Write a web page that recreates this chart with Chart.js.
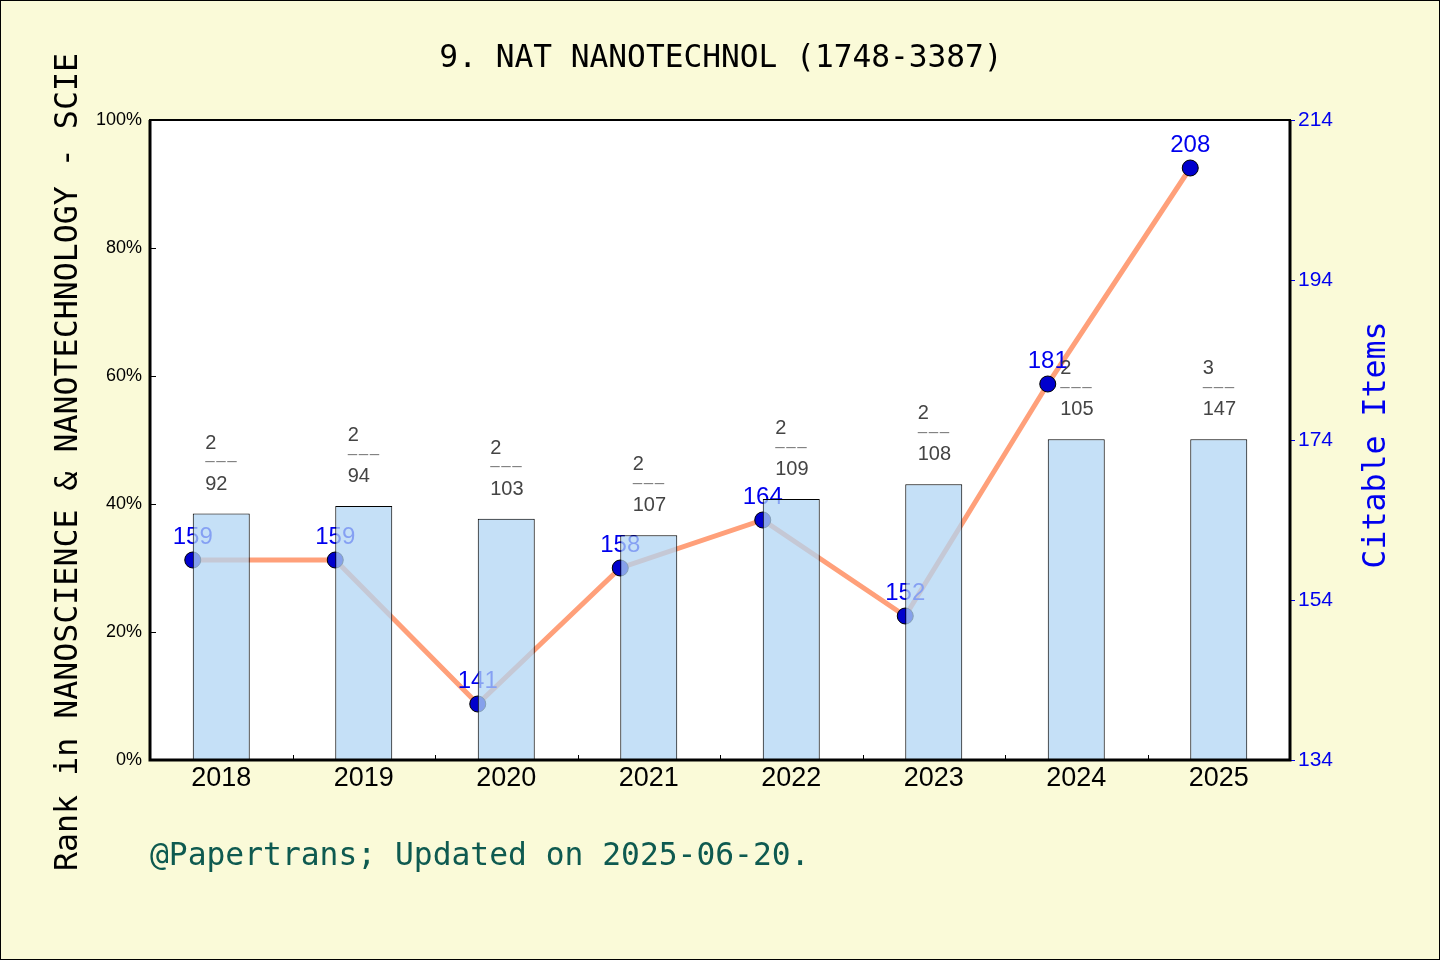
<!DOCTYPE html>
<html>
<head>
<meta charset="utf-8">
<title>NAT NANOTECHNOL</title>
<script src="https://cdn.jsdelivr.net/npm/chart.js@4.4.1/dist/chart.umd.min.js"></script>
<style>
  html, body { margin: 0; padding: 0; background: #fafad8; }
  #wrap { width: 1440px; height: 960px; }
</style>
</head>
<body>
<div id="wrap"><canvas id="chart" width="1440" height="960"></canvas></div>
<script>
// values
var years      = ['2018', '2019', '2020', '2021', '2022', '2023', '2024', '2025'];
var rankPct    = [38.5, 39.7, 37.7, 35.1, 40.8, 43.1, 50.1, 50.1];
var rankNum    = [2, 2, 2, 2, 2, 2, 2, 3];
var rankTotal  = [92, 94, 103, 107, 109, 108, 105, 147];
var citable    = [159, 159, 141, 158, 164, 152, 181, 208];
var leftRange  = [0, 100, 20];
var rightRange = [134, 214, 20];

var TITLE       = '9. NAT NANOTECHNOL (1748-3387)';
var LEFT_TITLE  = 'Rank in NANOSCIENCE & NANOTECHNOLOGY - SCIE';
var RIGHT_TITLE = 'Citable Items';
var FOOTER      = '@Papertrans; Updated on 2025-06-20.';

var MONO = '"DejaVu Sans Mono", "Liberation Mono", monospace';
var SANS = '"Liberation Sans", Arial, sans-serif';
var BG = '#fafad8';
var LINE_SHIFT = -0.2;   // points sit at the left edge of each bar

var lineData = citable.map(function(v, i) { return { x: i + LINE_SHIFT, y: v }; });

var decorPlugin = {
    id: 'decor',
    beforeDraw: function(chart) {
        var ctx = chart.ctx, a = chart.chartArea;
        ctx.save();
        ctx.fillStyle = BG;
        ctx.fillRect(0, 0, chart.width, chart.height);
        ctx.fillStyle = '#ffffff';
        ctx.fillRect(a.left, a.top, a.right - a.left, a.bottom - a.top);
        ctx.restore();
    },
    afterDatasetDraw: function(chart, args) {
        // value labels of the line, drawn before the bars cover them
        if (args.index !== 1) return;
        var ctx = chart.ctx;
        var meta = chart.getDatasetMeta(1);
        ctx.save();
        ctx.font = '24px ' + SANS;
        ctx.fillStyle = '#0000ee';
        ctx.textAlign = 'center';
        ctx.textBaseline = 'alphabetic';
        meta.data.forEach(function(pt, i) {
            ctx.fillText(String(citable[i]), pt.x, pt.y - 16);
        });
        ctx.restore();
    },
    afterDatasetsDraw: function(chart) {
        var ctx = chart.ctx;
        var meta = chart.getDatasetMeta(0);
        ctx.save();
        ctx.textAlign = 'left';
        meta.data.forEach(function(bar, i) {
            var x = bar.x - 16, top = bar.y;
            ctx.font = '20px ' + SANS;
            ctx.fillStyle = '#444444';
            ctx.textBaseline = 'alphabetic';
            ctx.fillText(String(rankNum[i]), x, top - 65);
            ctx.fillText(String(rankTotal[i]), x, top - 24);
            // the fraction bar: three short dashes
            ctx.font = '17px ' + SANS;
            ctx.fillStyle = '#808080';
            ctx.textBaseline = 'middle';
            for (var j = 0; j < 3; j++) {
                ctx.fillText('\u2013', x + j * 11, top - 52);
            }
        });
        ctx.restore();
    },
    afterDraw: function(chart) {
        var ctx = chart.ctx, a = chart.chartArea;
        var yL = chart.scales.y;
        ctx.save();

        // inward ticks on left axis and at category boundaries
        ctx.strokeStyle = '#000';
        ctx.lineWidth = 1;
        ctx.beginPath();
        yL.ticks.forEach(function(t) {
            var py = Math.round(yL.getPixelForValue(t.value)) + 0.5;
            ctx.moveTo(a.left, py);
            ctx.lineTo(a.left + 6, py);
        });
        var step = (a.right - a.left) / years.length;
        for (var k = 1; k < years.length; k++) {
            var px = Math.round(a.left + step * k) + 0.5;
            ctx.moveTo(px, a.bottom);
            ctx.lineTo(px, a.bottom - 5);
        }
        ctx.stroke();

        // frame
        ctx.lineWidth = 2;
        ctx.strokeRect(a.left, a.top, a.right - a.left, a.bottom - a.top);
        ctx.lineWidth = 3;
        ctx.beginPath();
        ctx.moveTo(a.left, a.top);
        ctx.lineTo(a.left, a.bottom);
        ctx.lineTo(a.right, a.bottom);
        ctx.lineTo(a.right, a.top);
        ctx.stroke();

        // title
        ctx.font = '31.2px ' + MONO;
        ctx.fillStyle = '#000';
        ctx.textAlign = 'center';
        ctx.textBaseline = 'alphabetic';
        ctx.fillText(TITLE, 721, 67);

        // footer
        ctx.font = '31.3px ' + MONO;
        ctx.fillStyle = '#0e5a50';
        ctx.textAlign = 'left';
        ctx.fillText(FOOTER, 150, 865);

        // axis titles, both reading bottom to top
        ctx.font = '31.6px ' + MONO;
        ctx.textAlign = 'center';
        ctx.save();
        ctx.translate(77, 462);
        ctx.rotate(-Math.PI / 2);
        ctx.fillStyle = '#000';
        ctx.fillText(LEFT_TITLE, 0, 0);
        ctx.restore();

        ctx.save();
        ctx.translate(1385, 445);
        ctx.rotate(-Math.PI / 2);
        ctx.fillStyle = '#0000ee';
        ctx.fillText(RIGHT_TITLE, 0, 0);
        ctx.restore();

        // outer frame of the figure
        ctx.lineWidth = 1;
        ctx.strokeStyle = '#000';
        ctx.strokeRect(0.5, 0.5, chart.width - 1, chart.height - 1);
        ctx.restore();
    }
};

var ctx = document.getElementById('chart').getContext('2d');
var chart = new Chart(ctx, {
    data: {
        labels: years,
        datasets: [{
            type: 'bar',
            label: 'Rank',
            data: rankPct,
            xAxisID: 'x',
            yAxisID: 'y',
            backgroundColor: 'rgba(178, 214, 244, 0.75)',
            borderColor: '#000',
            borderWidth: 1,
            grouped: false,
            barPercentage: 0.4,
            categoryPercentage: 1.0,
            order: 0
        }, {
            type: 'line',
            label: 'Citable Items',
            data: lineData,
            xAxisID: 'x2',
            yAxisID: 'y2',
            borderColor: '#ffa07a',
            borderWidth: 5,
            pointRadius: 8,
            pointBackgroundColor: '#0000cd',
            pointBorderColor: '#000',
            pointBorderWidth: 1,
            tension: 0,
            order: 1
        }]
    },
    options: {
        responsive: false,
        animation: false,
        devicePixelRatio: 1,
        layout: { padding: { left: 0, right: 0, top: 120, bottom: 160 } },
        plugins: {
            legend: { display: false },
            tooltip: { enabled: false },
            title: { display: false }
        },
        scales: {
            x: {
                type: 'category',
                offset: true,
                grid: { display: false },
                border: { display: false },
                ticks: {
                    font: { family: SANS, size: 27 },
                    color: '#000',
                    padding: -6
                },
                afterFit: function(s) { s.height = 40; }
            },
            x2: {
                type: 'linear',
                display: false,
                min: -0.5,
                max: years.length - 0.5
            },
            y: {
                position: 'left',
                min: leftRange[0],
                max: leftRange[1],
                grid: { display: false },
                border: { display: false },
                ticks: {
                    stepSize: leftRange[2],
                    font: { family: SANS, size: 18 },
                    color: '#000',
                    padding: 0,
                    callback: function(v) { return v + '%'; }
                },
                afterFit: function(s) { s.width = 150; }
            },
            y2: {
                position: 'right',
                min: rightRange[0],
                max: rightRange[1],
                grid: {
                    display: true,
                    drawOnChartArea: false,
                    drawTicks: true,
                    tickLength: 5,
                    color: '#0000ee',
                    lineWidth: 1
                },
                border: { display: false },
                ticks: {
                    stepSize: rightRange[2],
                    font: { family: SANS, size: 21 },
                    color: '#0000ee',
                    padding: 3
                },
                afterFit: function(s) { s.width = 150; }
            }
        }
    },
    plugins: [decorPlugin]
});
</script>
</body>
</html>
